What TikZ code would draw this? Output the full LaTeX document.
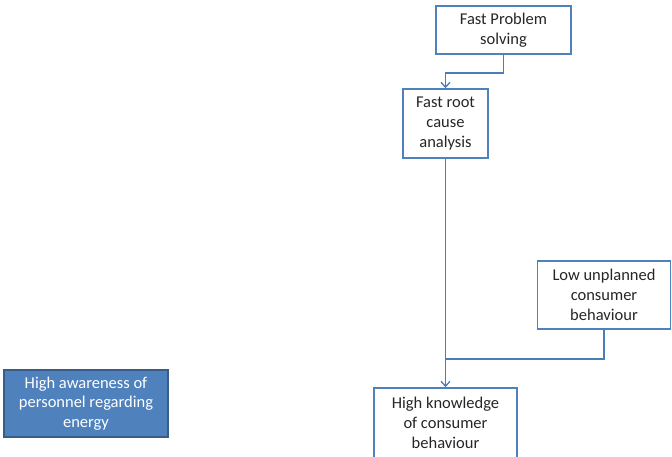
\documentclass[tikz,border=0pt]{standalone}
\usepackage{fontspec}
\setmainfont{Carlito}
\usetikzlibrary{arrows.meta}
\definecolor{boxline}{HTML}{4F81BD}
\definecolor{linkline}{HTML}{4A7EBB}
\definecolor{fillblue}{HTML}{4F81BD}
\definecolor{darkblue}{HTML}{385D8A}
\begin{document}
\begin{tikzpicture}[x=1pt,y=-1pt,
  every node/.style={font=\fontsize{16.5}{19.8}\selectfont, align=center, inner sep=1pt},
  stepbox/.style={draw=boxline, line width=1.5pt, fill=white, text=black!85},
  bluebox/.style={draw=darkblue, line width=1.2pt, fill=fillblue, text=white},
  link/.style={draw=linkline, line width=1.8pt},
  arr/.style={link, -{Straight Barb[length=5pt,width=9pt,line width=1.3pt]}}]
\useasboundingbox (0,0) rectangle (672,457);

\node[stepbox, minimum width=135pt, minimum height=48pt] (b1) at (503.5,30) {Fast Problem\\solving};
\node[stepbox, minimum width=85pt, minimum height=69pt] (b2) at (445.5,123.5) {Fast root\\cause\\analysis};
\node[stepbox, minimum width=133pt, minimum height=68pt] (b3) at (604,295) {Low unplanned\\consumer\\behaviour};
\node[stepbox, minimum width=143pt, minimum height=70pt] (b4) at (445.5,423) {High knowledge\\of consumer\\behaviour};
\node[bluebox, minimum width=164pt, minimum height=67pt] (b5) at (86,403.5) {High awareness of\\personnel regarding\\energy};

\coordinate (m) at (445.5,359);

\draw[arr] (b1.south) -- ++(0,18) -| (b2.north);
\draw[arr] (b2.south) -- (b4.north);
\draw[link] (b3.south) |- (m);
\end{tikzpicture}
\end{document}
